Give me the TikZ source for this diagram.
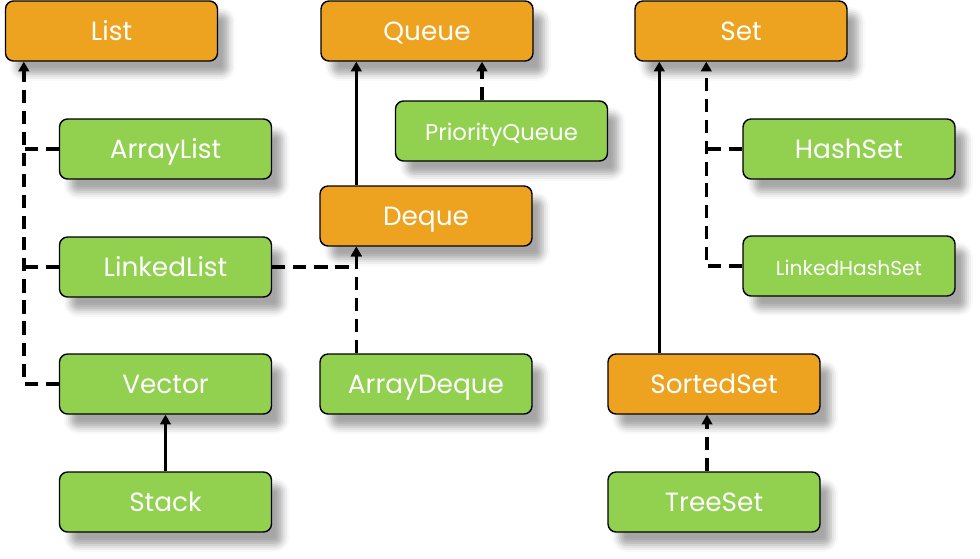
\documentclass[tikz,border=0pt]{standalone}
\usepackage{fontspec}
\setmainfont{Poppins}
\usepackage{xcolor}
\usetikzlibrary{positioning,arrows.meta,calc,shadows.blur}
\definecolor{ifaceorange}{RGB}{237,163,32}
\definecolor{classgreen}{RGB}{146,208,80}

\begin{document}
\begin{tikzpicture}[x=0.02cm,y=-0.02cm,
  box/.style={draw=black,line width=0.8pt,rounded corners=0.16cm,
    minimum width=4.24cm,minimum height=1.2cm,inner sep=0pt,
    text=white,font=\fontsize{15}{17}\selectfont,
    text height=1.1em,text depth=0pt,
    blur shadow={shadow xshift=0.22cm,shadow yshift=-0.26cm,
      shadow opacity=35,shadow blur radius=0.14cm}},
  iface/.style={box,fill=ifaceorange},
  impl/.style={box,fill=classgreen},
  inh/.style={line width=2pt,-{Triangle[length=5.5pt,width=6pt]}},
  dep/.style={inh,dash pattern=on 7.5pt off 4.5pt}]
  \useasboundingbox (0,0) rectangle (980,558);

  % interfaces
  \node[iface] (list)  at (111.5,31) {List};
  \node[iface] (queue) at (427,31)   {Queue};
  \node[iface] (set)   at (741,31)   {Set};
  \node[iface] (deque) at (426,216)  {Deque};
  \node[iface] (sortedset) at (714,384) {SortedSet};

  % classes
  \node[impl] (arraylist)  at (165.5,149) {ArrayList};
  \node[impl] (linkedlist) at (165.5,267) {LinkedList};
  \node[impl] (vector)     at (165.5,384) {Vector};
  \node[impl] (stack)      at (165.5,502) {Stack};
  \node[impl,font=\fontsize{13}{15}\selectfont] (pq) at (501.5,131) {PriorityQueue};
  \node[impl] (arraydeque) at (426,384) {ArrayDeque};
  \node[impl] (hashset)    at (849,149) {HashSet};
  \node[impl,font=\fontsize{11.5}{13}\selectfont] (lhs) at (849,266) {LinkedHashSet};
  \node[impl] (treeset)    at (714,502) {TreeSet};

  % List branch: one dashed bus on the left
  \coordinate (lbus) at ([xshift=0.38cm]list.south west);
  \draw[dep] (vector.west) -| (lbus);
  \draw[dep,-] (arraylist.west) -- (arraylist.west -| lbus);
  \draw[dep,-] (linkedlist.west) -- (linkedlist.west -| lbus);
  \draw[inh] (stack.north) -- (vector.south);

  % Queue branch
  \coordinate (dqx) at ([xshift=0.74cm]deque.south west);
  \draw[inh] ([xshift=0.74cm]deque.north west) -- ([xshift=0.74cm]deque.north west |- queue.south);
  \draw[dep] ([xshift=-0.39cm]pq.north) -- ([xshift=-0.39cm]pq.north |- queue.south);
  \draw[dep] (linkedlist.east) -| (dqx);
  \draw[dep] (arraydeque.north -| dqx) -- (dqx);

  % Set branch
  \coordinate (sbus) at ([xshift=1.44cm]set.south west);
  \draw[inh] ([xshift=1.04cm]sortedset.north west) -- ([xshift=1.04cm]sortedset.north west |- set.south);
  \draw[dep] (lhs.west) -| (sbus);
  \draw[dep,-] (hashset.west) -- (hashset.west -| sbus);
  \draw[dep] ([xshift=-0.14cm]treeset.north) -- ([xshift=-0.14cm]treeset.north |- sortedset.south);
\end{tikzpicture}
\end{document}
